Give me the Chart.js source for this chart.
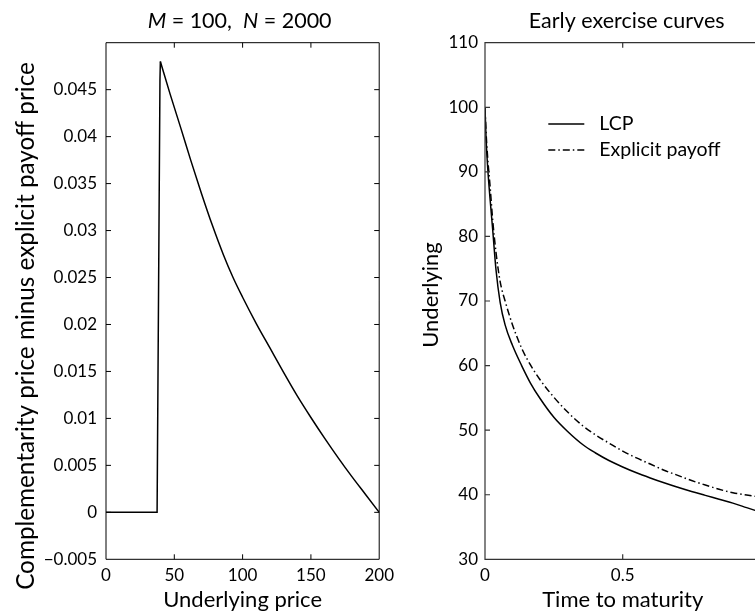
<!DOCTYPE html>
<html>
<head>
<meta charset="utf-8">
<script src="https://cdn.jsdelivr.net/npm/chart.js@4.4.1/dist/chart.umd.min.js"></script>
<style>
  html, body { margin: 0; padding: 0; width: 755px; height: 616px; overflow: hidden; background: #fff; }
  #wrap { position: relative; width: 755px; height: 616px; overflow: hidden; }
  canvas { position: absolute; top: 0; }
  #diffChart { left: 0; }
  #boundaryChart { left: 400px; }
</style>
</head>
<body>
<div id="wrap">
  <canvas id="diffChart" width="400" height="616"></canvas>
  <canvas id="boundaryChart" width="380" height="616"></canvas>
</div>
<script>
// left panel: complementarity price minus explicit payoff price (M = 100, N = 2000)
const underlyingPrice = [0, 37.4, 39.5, 39.8, 47, 55, 62, 70, 78, 86, 93, 100, 110, 120, 130, 140, 150, 160, 170, 180, 190, 200];
const priceDifference = [0, 0, 0.046, 0.048, 0.0445, 0.0408, 0.0375, 0.0339, 0.0305, 0.0274, 0.0250, 0.0229, 0.0201, 0.0175, 0.0149, 0.0124, 0.0101, 0.0079, 0.0058, 0.0038, 0.0019, 0];

// right panel: early exercise curves
const timeToMaturity = [0, 0.004, 0.01, 0.018, 0.028, 0.04, 0.055, 0.073, 0.1, 0.133, 0.165, 0.2, 0.25, 0.3, 0.357, 0.4, 0.45, 0.5, 0.55, 0.6, 0.65, 0.7, 0.75, 0.8, 0.85, 0.9, 0.95, 1.0];
const lcpBoundary = [100, 95, 90.5, 86, 81, 74.8, 69.8, 66.3, 63.1, 60.0, 57.3, 54.9, 52.0, 49.8, 47.7, 46.5, 45.3, 44.3, 43.4, 42.6, 41.85, 41.15, 40.5, 39.9, 39.3, 38.7, 38.0, 37.3];
const explicitBoundary = [100, 96, 92, 88, 82.5, 77.5, 73, 70, 66.3, 62.7, 60.1, 57.8, 55.1, 52.8, 50.6, 49.3, 48.0, 46.75, 45.7, 44.75, 43.8, 43.0, 42.2, 41.5, 40.85, 40.3, 39.95, 39.6];

const seriesLabels = ['LCP', 'Explicit payoff'];

const FAMILY = 'Lato, "DejaVu Sans", sans-serif';
Chart.defaults.font.family = FAMILY;
Chart.defaults.color = '#000';

function toPoints(xs, ys, from, to) {
  const pts = [];
  for (let i = from; i <= to; i++) pts.push({ x: xs[i], y: ys[i] });
  return pts;
}

// the jump is drawn with straight segments, the decay after the peak is smoothed
const peakIdx = priceDifference.indexOf(Math.max(...priceDifference));
const lastIdx = underlyingPrice.length - 1;

// box around the plot plus MATLAB-style inward ticks
const frameAndTicks = {
  id: 'frameAndTicks',
  afterDatasetsDraw(chart, args, opts) {
    const { ctx, chartArea: a, scales } = chart;
    const len = 5;
    ctx.save();
    ctx.strokeStyle = opts.color || '#000';
    ctx.lineWidth = opts.width || 1;
    ctx.beginPath();
    ctx.rect(a.left, a.top, a.right - a.left, a.bottom - a.top);
    ctx.stroke();
    ctx.beginPath();
    scales.x.ticks.forEach(t => {
      const px = scales.x.getPixelForValue(t.value);
      if (px <= a.left + 1 || px >= a.right - 1) return;
      ctx.moveTo(px, a.bottom); ctx.lineTo(px, a.bottom - len);
      ctx.moveTo(px, a.top); ctx.lineTo(px, a.top + len);
    });
    scales.y.ticks.forEach(t => {
      const py = scales.y.getPixelForValue(t.value);
      if (py <= a.top + 1 || py >= a.bottom - 1) return;
      ctx.moveTo(a.left, py); ctx.lineTo(a.left + len, py);
      ctx.moveTo(a.right, py); ctx.lineTo(a.right - len, py);
    });
    ctx.stroke();
    ctx.restore();
  }
};

// title with mixed italic / upright parts, plus the rotated y label
const panelText = {
  id: 'panelText',
  afterDraw(chart, args, opts) {
    const { ctx, chartArea: a } = chart;
    ctx.save();
    ctx.fillStyle = '#000';
    ctx.textBaseline = 'middle';
    if (opts.parts) {
      const fontOf = p => (p.italic ? 'italic ' : '') + opts.size + 'px ' + FAMILY;
      let total = 0;
      opts.parts.forEach(p => { ctx.font = fontOf(p); total += ctx.measureText(p.text).width; });
      let x = (a.left + a.right) / 2 + (opts.dx || 0) - total / 2;
      opts.parts.forEach(p => {
        ctx.font = fontOf(p);
        ctx.fillText(p.text, x, opts.y);
        x += ctx.measureText(p.text).width;
      });
    }
    if (opts.yLabel) {
      const l = opts.yLabel;
      ctx.font = l.size + 'px ' + FAMILY;
      ctx.textAlign = 'center';
      ctx.translate(l.x, (a.top + a.bottom) / 2 + l.dy);
      ctx.rotate(-Math.PI / 2);
      ctx.fillText(l.text, 0, 0);
    }
    ctx.restore();
  }
};

// legend sitting inside the axes, no box
const insideLegend = {
  id: 'insideLegend',
  afterDraw(chart, args, opts) {
    if (!opts.show) return;
    const { ctx, chartArea: a } = chart;
    ctx.save();
    ctx.font = opts.size + 'px ' + FAMILY;
    ctx.textBaseline = 'middle';
    chart.data.datasets.forEach((ds, i) => {
      const x0 = a.left + opts.dx;
      const y = a.top + opts.dy + i * opts.rowGap;
      ctx.strokeStyle = ds.borderColor;
      ctx.lineWidth = ds.borderWidth;
      ctx.setLineDash(ds.borderDash || []);
      ctx.beginPath();
      ctx.moveTo(x0, y);
      ctx.lineTo(x0 + opts.lineLen, y);
      ctx.stroke();
      ctx.setLineDash([]);
      ctx.fillStyle = '#000';
      ctx.fillText(ds.label, x0 + opts.lineLen + opts.gap, y);
    });
    ctx.restore();
  }
};

function fmtDiff(v) {
  if (v > 0.0499) return '';
  const s = String(Number(Math.abs(v).toFixed(3)));
  return v < -1e-9 ? '\u2212' + s : s;
}

new Chart(document.getElementById('diffChart'), {
  type: 'line',
  data: {
    datasets: [{
      label: 'jump',
      data: toPoints(underlyingPrice, priceDifference, 0, peakIdx),
      borderColor: '#000',
      borderWidth: 1.5,
      pointRadius: 0,
      tension: 0
    }, {
      label: 'decay',
      data: toPoints(underlyingPrice, priceDifference, peakIdx, lastIdx),
      borderColor: '#000',
      borderWidth: 1.5,
      pointRadius: 0,
      cubicInterpolationMode: 'monotone'
    }]
  },
  options: {
    responsive: false,
    animation: false,
    layout: { padding: { left: 0, right: 17.7, top: 42.7, bottom: 0 } },
    scales: {
      x: {
        type: 'linear',
        min: 0, max: 200,
        grid: { display: false, drawTicks: false },
        border: { display: false },
        ticks: { stepSize: 50, padding: 6, font: { size: 17 }, maxRotation: 0 },
        title: { display: true, text: 'Underlying price', font: { size: 22 }, padding: { top: 0, bottom: 3.3 } },
        afterFit(scale) { scale.height = 56.7; }
      },
      y: {
        min: -0.005, max: 0.05,
        grid: { display: false, drawTicks: false },
        border: { display: false },
        ticks: { stepSize: 0.005, padding: 9, font: { size: 17 }, callback: v => fmtDiff(v) },
        title: { display: false },
        afterFit(scale) { scale.width = 106; }
      }
    },
    plugins: {
      legend: { display: false },
      tooltip: { enabled: false },
      frameAndTicks: { color: '#000', width: 1 },
      panelText: {
        y: 21.5, size: 21.5, dx: -3,
        parts: [
          { text: 'M', italic: true },
          { text: ' = 100,  ', italic: false },
          { text: 'N', italic: true },
          { text: ' = 2000', italic: false }
        ],
        yLabel: { text: 'Complementarity price minus explicit payoff price', size: 24.3, x: 26.3, dy: 25 }
      },
      insideLegend: { show: false }
    }
  },
  plugins: [frameAndTicks, panelText, insideLegend]
});

new Chart(document.getElementById('boundaryChart'), {
  type: 'line',
  data: {
    datasets: [{
      label: seriesLabels[0],
      data: toPoints(timeToMaturity, lcpBoundary, 0, timeToMaturity.length - 1),
      borderColor: '#000',
      borderWidth: 1.5,
      pointRadius: 0,
      cubicInterpolationMode: 'monotone'
    }, {
      label: seriesLabels[1],
      data: toPoints(timeToMaturity, explicitBoundary, 0, timeToMaturity.length - 1),
      borderColor: '#000',
      borderWidth: 1.5,
      borderDash: [7, 3, 1.5, 3],
      pointRadius: 0,
      cubicInterpolationMode: 'monotone'
    }]
  },
  options: {
    responsive: false,
    animation: false,
    layout: { padding: { left: 0, right: 19.6, top: 42.7, bottom: 0 } },
    scales: {
      x: {
        type: 'linear',
        min: 0, max: 1,
        grid: { display: false, drawTicks: false },
        border: { display: false },
        ticks: { stepSize: 0.5, padding: 6, font: { size: 17 }, maxRotation: 0, callback: v => String(v) },
        title: { display: true, text: 'Time to maturity', font: { size: 22 }, padding: { top: 0, bottom: 3.3 } },
        afterFit(scale) { scale.height = 56.7; }
      },
      y: {
        min: 30, max: 110,
        grid: { display: false, drawTicks: false },
        border: { display: false },
        ticks: { stepSize: 10, padding: 7, font: { size: 17 } },
        title: { display: false },
        afterFit(scale) { scale.width = 85; }
      }
    },
    plugins: {
      legend: { display: false },
      tooltip: { enabled: false },
      frameAndTicks: { color: '#333', width: 1.2 },
      panelText: {
        y: 21.5, size: 21.5, dx: 4,
        parts: [{ text: 'Early exercise curves', italic: false }],
        yLabel: { text: 'Underlying', size: 22, x: 31.3, dy: -6 }
      },
      insideLegend: { show: true, dx: 63.3, dy: 81.3, rowGap: 26, lineLen: 36, gap: 15, size: 19.5 }
    }
  },
  plugins: [frameAndTicks, panelText, insideLegend]
});
</script>
</body>
</html>
